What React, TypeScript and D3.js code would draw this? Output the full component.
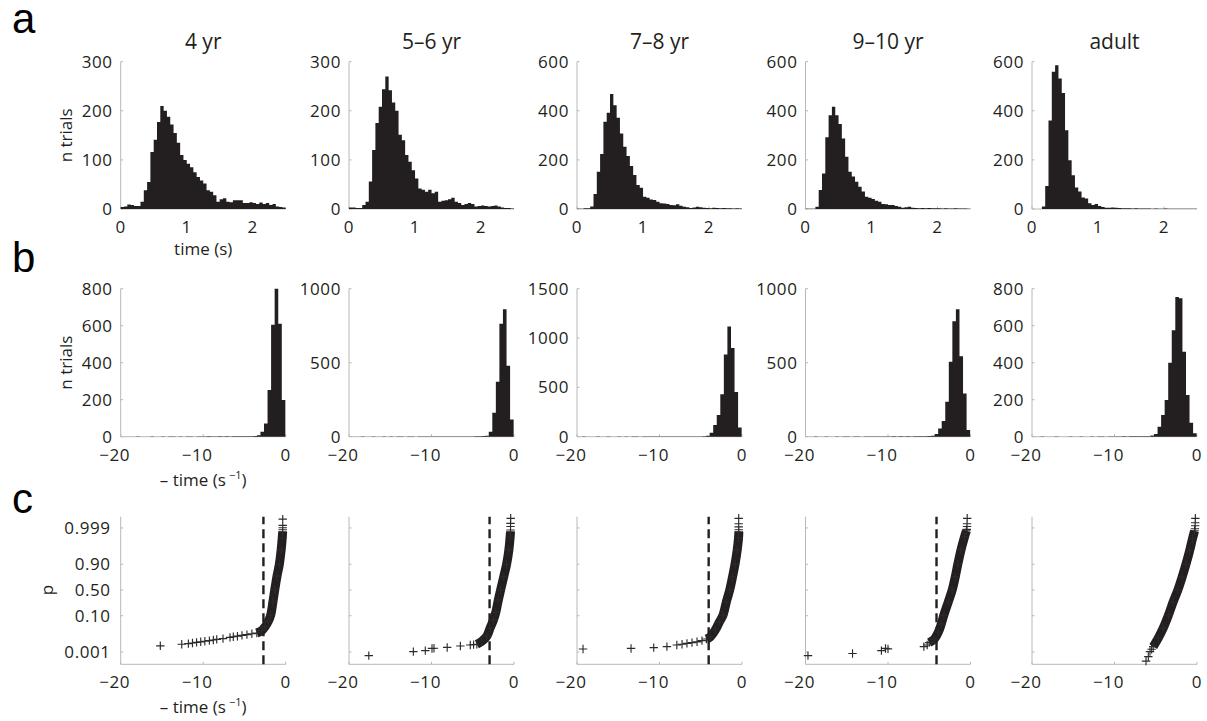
import React from 'react';
import * as d3 from 'd3';

// ---------------- DATA ----------------
const ageGroups = ['4 yr', '5\u20136 yr', '7\u20138 yr', '9\u201310 yr', 'adult'];

// Row a: response-time histograms, 0.05 s bins from 0 to 2.5 s
const rtBinWidth = 0.05;
const rt4yr = [4,5,9,8,6,6,15,38,55,116,141,177,210,200,188,172,155,135,110,100,92,85,75,65,58,52,38,35,28,15,20,22,15,14,18,18,18,12,12,14,12,10,13,10,12,8,10,5,4,3];
const rt56yr = [3,3,2,2,8,15,56,120,175,208,244,270,242,217,200,151,140,110,96,79,62,42,39,35,39,32,35,15,17,18,20,23,15,12,8,10,12,10,5,6,7,6,5,6,7,5,3,2,2,1];
const rt78yr = [1,1,3,3,10,61,152,224,355,392,468,423,372,308,254,216,175,138,98,87,50,46,39,37,30,23,22,20,16,15,19,13,9,7,4,6,9,7,5,4,3,5,4,3,4,3,3,2,3,2];
const rt910yr = [1,1,1,9,77,145,292,382,416,382,346,287,213,152,132,111,91,71,50,46,41,34,30,20,19,16,16,12,9,5,7,9,5,4,3,4,3,4,3,3,3,2,3,2,2,3,2,2,2,1];
const rtAdult = [0,0,0,10,94,360,559,586,532,473,321,199,137,88,71,47,43,23,16,20,12,8,5,5,6,5,4,3,3,3,2,3,2,2,2,2,1,2,1,1,2,1,1,1,1,1,1,1,1,1];
const rtCounts = [rt4yr, rt56yr, rt78yr, rt910yr, rtAdult];
const rtYMax = [300, 300, 600, 600, 600];
const rtYTicks = [[0,100,200,300],[0,100,200,300],[0,200,400,600],[0,200,400,600],[0,200,400,600]];
const rtXTicks = [0, 1, 2];

// Row b: histograms of -1/time (s^-1)
const invBinWidth = 0.43;
const invLastEdge = -0.05;
const inv4yr = [0,0,0,0,1,0,0,0,1,0,0,1,0,1,1,0,1,0,1,1,0,1,1,1,2,1,1,2,1,2,1,2,2,2,2,2,3,4,8,27,72,253,605,800,610,199];
const inv56yr = [0,0,0,1,0,0,1,0,0,1,0,1,0,1,1,0,1,1,0,1,1,1,1,2,1,2,2,1,2,2,1,2,2,2,2,3,3,5,7,34,162,371,764,861,479,117];
const inv78yr = [0,1,0,0,0,1,0,0,1,0,0,1,0,1,0,1,1,0,1,1,1,1,2,1,2,2,1,2,2,2,3,2,3,2,3,5,10,40,118,219,430,834,1117,898,454,94];
const inv910yr = [0,0,1,0,0,1,0,0,1,0,1,1,0,1,1,0,1,1,1,2,1,2,2,2,3,2,3,2,3,2,3,3,3,3,4,7,18,56,106,236,506,780,861,544,292,45];
const invAdult = [0,0,1,0,0,0,1,0,0,0,1,0,0,1,0,0,1,0,1,1,0,1,1,1,1,2,1,2,2,2,2,2,3,7,14,54,117,198,400,576,755,748,459,225,76,18];
const invCounts = [inv4yr, inv56yr, inv78yr, inv910yr, invAdult];
const invYMax = [800, 1000, 1500, 1000, 800];
const invYTicks = [[0,200,400,600,800],[0,500,1000],[0,500,1000,1500],[0,500,1000],[0,200,400,600,800]];
const invXTicks = [-20, -10, 0];

// Row c: normal probability plots; points are [-1/time, normal quantile of p]
const pTicks = [0.001, 0.10, 0.50, 0.90, 0.999];
const pTickLabels = ['0.001', '0.10', '0.50', '0.90', '0.999'];
const tail4yr: [number, number][] = [[-15.2,-2.78],[-12.6,-2.70],[-11.8,-2.67],[-11.3,-2.64],[-10.8,-2.61],[-10.3,-2.58],[-9.8,-2.55],[-9.25,-2.52],[-8.77,-2.49],[-8.36,-2.46],[-7.6,-2.42],[-6.75,-2.36],[-6.35,-2.33],[-5.85,-2.30],[-5.3,-2.26],[-4.7,-2.22],[-4.1,-2.18],[-3.5,-2.14]];
const band4yr: [number, number][] = [[-3.5,-2.14],[-2.9,-2.02],[-2.5,-1.83],[-2.1,-1.55],[-1.82,-1.25],[-1.55,-0.6],[-1.33,0],[-1.05,0.7],[-0.77,1.28],[-0.55,2.0],[-0.42,2.6],[-0.37,2.9]];
const top4yr: [number, number][] = [[-0.36,3.0],[-0.36,3.1],[-0.36,3.22],[-0.36,3.53]];
const tail56yr: [number, number][] = [[-17.6,-3.27],[-12.2,-3.07],[-10.75,-3.02],[-9.94,-2.91],[-9.7,-2.9],[-8.1,-2.86],[-6.5,-2.79],[-5.3,-2.74],[-4.9,-2.72]];
const band56yr: [number, number][] = [[-4.5,-2.70],[-3.9,-2.55],[-3.3,-2.3],[-2.9,-1.9],[-2.5,-1.5],[-2.2,-1.1],[-1.9,-0.5],[-1.62,0],[-1.25,0.65],[-0.9,1.28],[-0.62,2.0],[-0.48,2.6],[-0.42,2.9]];
const top56yr: [number, number][] = [[-0.42,2.99],[-0.42,3.16],[-0.42,3.32],[-0.4,3.57]];
const tail78yr: [number, number][] = [[-19.27,-2.94],[-13.45,-2.91],[-10.7,-2.87],[-9.1,-2.82],[-7.9,-2.74],[-7.27,-2.70],[-6.67,-2.66],[-6.06,-2.62],[-5.45,-2.58],[-4.85,-2.52],[-4.32,-2.44]];
const band78yr: [number, number][] = [[-4.3,-2.44],[-3.84,-2.33],[-3.23,-1.99],[-2.75,-1.6],[-2.3,-1.25],[-1.9,-0.6],[-1.49,0],[-1.15,0.65],[-0.85,1.28],[-0.58,2.0],[-0.42,2.6],[-0.38,2.9]];
const top78yr: [number, number][] = [[-0.4,3.0],[-0.4,3.14],[-0.4,3.3],[-0.4,3.57]];
const tail910yr: [number, number][] = [[-19.7,-3.27],[-14.3,-3.16],[-10.8,-3.02],[-10.3,-2.91],[-10.0,-2.93],[-5.65,-2.82],[-5.25,-2.74]];
const band910yr: [number, number][] = [[-5.0,-2.62],[-4.4,-2.45],[-3.9,-2.1],[-3.55,-1.7],[-3.23,-1.25],[-2.7,-0.6],[-2.22,0],[-1.85,0.65],[-1.54,1.28],[-1.15,2.0],[-0.72,2.65],[-0.5,2.95]];
const top910yr: [number, number][] = [[-0.45,3.02],[-0.42,3.16],[-0.42,3.3],[-0.4,3.57]];
const tailAdult: [number, number][] = [[-6.18,-3.54],[-5.9,-3.32],[-5.7,-3.07],[-5.5,-2.95]];
const bandAdult: [number, number][] = [[-5.3,-2.82],[-4.7,-2.4],[-4.1,-1.9],[-3.46,-1.25],[-2.9,-0.6],[-2.32,0],[-1.8,0.65],[-1.34,1.28],[-0.9,1.95],[-0.55,2.55],[-0.3,2.95]];
const topAdult: [number, number][] = [[-0.25,3.05],[-0.22,3.2],[-0.22,3.35],[-0.2,3.57]];
const probTails = [tail4yr, tail56yr, tail78yr, tail910yr, tailAdult];
const probBands = [band4yr, band56yr, band78yr, band910yr, bandAdult];
const probTops = [top4yr, top56yr, top78yr, top910yr, topAdult];
const cutoffs: (number | null)[] = [-2.7, -2.96, -4.04, -4.12, null];

// ---------------- STYLE / LAYOUT ----------------
const FONT = "'Open Sans', 'Noto Sans', sans-serif";
const INK = '#231f20';
const AXIS = '#b8b8b8';
const PANEL_X = [120.7, 349, 577, 805.5, 1032];
const PW = 165;
const ROW_A = { top: 61.7, bottom: 209 };
const ROW_B = { top: 288.7, bottom: 436.7 };
const ROW_C = { top: 516.7, bottom: 664.3 };
const TICK_FS = 17;
const TICK_LS = 0.6;

function probit(p: number): number {
  const a = [-3.969683028665376e1, 2.209460984245205e2, -2.759285104469687e2, 1.38357751867269e2, -3.066479806614716e1, 2.506628277459239];
  const b = [-5.447609879822406e1, 1.615858368580409e2, -1.556989798598866e2, 6.680131188771972e1, -1.328068155288572e1];
  const c = [-7.784894002430293e-3, -3.223964580411365e-1, -2.400758277161838, -2.549732539343734, 4.374664141464968, 2.938163982698783];
  const d = [7.784695709041462e-3, 3.224671290700398e-1, 2.445134137142996, 3.754408661907416];
  const pl = 0.02425;
  if (p < pl) {
    const q = Math.sqrt(-2 * Math.log(p));
    return (((((c[0] * q + c[1]) * q + c[2]) * q + c[3]) * q + c[4]) * q + c[5]) / ((((d[0] * q + d[1]) * q + d[2]) * q + d[3]) * q + 1);
  }
  if (p > 1 - pl) {
    const q = Math.sqrt(-2 * Math.log(1 - p));
    return -(((((c[0] * q + c[1]) * q + c[2]) * q + c[3]) * q + c[4]) * q + c[5]) / ((((d[0] * q + d[1]) * q + d[2]) * q + d[3]) * q + 1);
  }
  const q = p - 0.5;
  const r = q * q;
  return ((((((a[0] * r + a[1]) * r + a[2]) * r + a[3]) * r + a[4]) * r + a[5]) * q) / (((((b[0] * r + b[1]) * r + b[2]) * r + b[3]) * r + b[4]) * r + 1);
}

const fmt = d3.format('d');

type Scale = d3.ScaleLinear<number, number>;

function AxisFrame({ xs, ys, xTicks, yTicks, yLabels, labelGap = 8 }: { xs: Scale; ys: Scale; xTicks: number[]; yTicks: number[]; yLabels: string[] | null; labelGap?: number }) {
  const [xa, xb] = xs.range();
  const [yb, ya] = ys.range();
  return (
    <g>
      <line x1={xa} x2={xa} y1={yb} y2={ya} stroke={AXIS} strokeWidth={1} />
      <line x1={xa} x2={xb} y1={yb} y2={yb} stroke={AXIS} strokeWidth={1} />
      {yTicks.map((t, k) => (
        <line key={'yt' + k} x1={xa} x2={xa + 2.5} y1={ys(t)} y2={ys(t)} stroke={AXIS} />
      ))}
      {xTicks.map((t, k) => (
        <line key={'xt' + k} x1={xs(t)} x2={xs(t)} y1={yb} y2={yb - 2.5} stroke={AXIS} />
      ))}
      {yLabels &&
        yTicks.map((t, k) => (
          <text key={'yl' + k} x={xa - labelGap} y={ys(t)} dy="0.36em" textAnchor="end" fontSize={TICK_FS} letterSpacing={TICK_LS} fill={INK}>
            {yLabels[k]}
          </text>
        ))}
      {xTicks.map((t, k) => (
        <text key={'xl' + k} x={xs(t)} dx={t < 0 ? -6 : 0} y={yb + 24} textAnchor="middle" fontSize={TICK_FS} letterSpacing={TICK_LS} fill={INK}>
          {fmt(t)}
        </text>
      ))}
    </g>
  );
}

function HistPanel({ x0, row, domainX, counts, binStart, binWidth, yMax, yTicks, xTicks }: {
  x0: number; row: { top: number; bottom: number }; domainX: [number, number]; counts: number[]; binStart: number; binWidth: number; yMax: number; yTicks: number[]; xTicks: number[];
}) {
  const xs = d3.scaleLinear().domain(domainX).range([x0, x0 + PW]);
  const ys = d3.scaleLinear().domain([0, yMax]).range([row.bottom, row.top]);
  const p = d3.path();
  counts.forEach((c, k) => {
    if (c <= 0) return;
    const e0 = binStart + k * binWidth;
    const e1 = e0 + binWidth;
    p.rect(xs(e0), ys(c), xs(e1) - xs(e0) + 0.05, ys(0) - ys(c));
  });
  return (
    <g>
      <AxisFrame xs={xs} ys={ys} xTicks={xTicks} yTicks={yTicks} yLabels={yTicks.map((t) => fmt(t))} />
      <path d={p.toString()} fill={INK} fillRule="nonzero" />
    </g>
  );
}

function plus(x: number, y: number, s = 4.2) {
  return `M${x - s},${y}H${x + s}M${x},${y - s}V${y + s}`;
}

function ProbPanel({ i }: { i: number }) {
  const x0 = PANEL_X[i];
  const xs = d3.scaleLinear().domain([-20, 0]).range([x0, x0 + PW]);
  const ys = d3.scaleLinear().domain([-3.7, 3.65]).range([ROW_C.bottom, ROW_C.top]);
  const zTicks = pTicks.map(probit);
  const line = d3
    .line<[number, number]>()
    .x((d) => xs(d[0]))
    .y((d) => ys(d[1]))
    .curve(d3.curveCatmullRom);
  const cut = cutoffs[i];
  const pts = [...probTails[i], ...probBands[i], ...probTops[i]];
  return (
    <g>
      <AxisFrame xs={xs} ys={ys} xTicks={invXTicks} yTicks={zTicks} yLabels={i === 0 ? pTickLabels : null} labelGap={10} />
      {cut !== null && (
        <line x1={xs(cut)} x2={xs(cut)} y1={ROW_C.bottom} y2={ROW_C.top} stroke={INK} strokeWidth={2.4} strokeDasharray="9,5" />
      )}
      <path d={line(probBands[i]) || ''} fill="none" stroke={INK} strokeWidth={9} strokeLinejoin="round" />
      <path d={pts.map((d) => plus(xs(d[0]), ys(d[1]))).join('')} fill="none" stroke="#2e2a2b" strokeWidth={1.15} />
    </g>
  );
}

function XLabelInv({ x, y }: { x: number; y: number }) {
  return (
    <text x={x} y={y} textAnchor="middle" fontSize={17} fill={INK}>
      {'\u2013 time (s'}
      <tspan dx={3} dy={-7} fontSize={11}>
        {'\u22121'}
      </tspan>
      <tspan dy={7}>)</tspan>
    </text>
  );
}

export default function App() {
  const cx = PANEL_X[0] + PW / 2;
  const letterFont = "'Liberation Sans', Arial, sans-serif";
  return (
    <svg width={1207} height={721} style={{ position: 'absolute', left: 0, top: 0 }} fontFamily={FONT}>
      <rect width={1207} height={721} fill="#fff" />
      {/* panel letters */}
      <text x={12} y={33} fontSize={42} fontFamily={letterFont} fill="#000">a</text>
      <text x={12} y={272} fontSize={42} fontFamily={letterFont} fill="#000">b</text>
      <text x={12} y={513} fontSize={42} fontFamily={letterFont} fill="#000">c</text>

      {/* titles */}
      {ageGroups.map((g, i) => (
        <text key={'t' + i} x={PANEL_X[i] + PW / 2} y={48.5} textAnchor="middle" fontSize={21} fill={INK}>
          {g}
        </text>
      ))}

      {/* row a */}
      {ageGroups.map((g, i) => (
        <HistPanel key={'a' + i} x0={PANEL_X[i]} row={ROW_A} domainX={[0, 2.5]} counts={rtCounts[i]} binStart={0} binWidth={rtBinWidth} yMax={rtYMax[i]} yTicks={rtYTicks[i]} xTicks={rtXTicks} />
      ))}
      {/* row b */}
      {ageGroups.map((g, i) => (
        <HistPanel key={'b' + i} x0={PANEL_X[i]} row={ROW_B} domainX={[-20, 0]} counts={invCounts[i]} binStart={invLastEdge - invCounts[i].length * invBinWidth} binWidth={invBinWidth} yMax={invYMax[i]} yTicks={invYTicks[i]} xTicks={invXTicks} />
      ))}
      {/* row c */}
      {ageGroups.map((g, i) => (
        <ProbPanel key={'c' + i} i={i} />
      ))}

      {/* axis titles */}
      <text x={cx} y={255} textAnchor="middle" fontSize={17} fill={INK}>time (s)</text>
      <XLabelInv x={cx} y={486} />
      <XLabelInv x={cx} y={713} />
      <text transform={`translate(72,${(ROW_A.top + ROW_A.bottom) / 2}) rotate(-90)`} textAnchor="middle" fontSize={17} fill={INK}>n trials</text>
      <text transform={`translate(72,${(ROW_B.top + ROW_B.bottom) / 2}) rotate(-90)`} textAnchor="middle" fontSize={17} fill={INK}>n trials</text>
      <text transform={`translate(53,590) rotate(-90)`} textAnchor="middle" fontSize={17} fill={INK}>p</text>
    </svg>
  );
}
